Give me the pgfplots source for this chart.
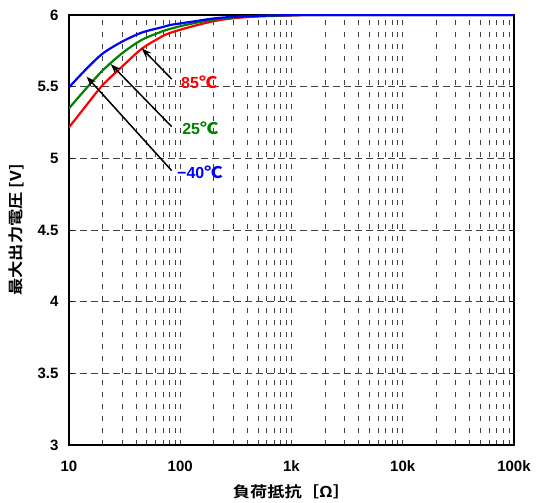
\documentclass[border=0pt]{standalone}
\usepackage{fontspec}
\setmainfont{Liberation Sans}
\newfontfamily\cjk{Noto Sans CJK JP Bold}[FakeStretch=1.15]
\usepackage{pgfplots}
\pgfplotsset{compat=1.18}
\usetikzlibrary{arrows.meta}
\pgfplotstableread{
R V
10 5.495
14 5.616
20 5.730
30 5.814
45 5.877
68 5.914
81 5.930
103 5.943
135 5.956
200 5.976
300 5.987
500 5.994
1000 5.999
2000 6.000
100000 6.000
}\blue
\pgfplotstableread{
R V
10 5.349
14 5.480
20 5.612
30 5.733
45 5.826
68 5.884
81 5.903
103 5.924
135 5.944
200 5.968
300 5.983
500 5.992
1000 5.998
2000 6.000
100000 6.000
}\green
\pgfplotstableread{
R V
10 5.216
14 5.360
20 5.510
30 5.640
45 5.764
68 5.849
81 5.875
103 5.900
135 5.925
200 5.957
300 5.977
500 5.990
1000 5.997
2000 6.000
100000 6.000
}\red
\begin{document}
\begin{tikzpicture}
\begin{axis}[
  scale only axis, width=445pt, height=430pt,
  xmode=log, xmin=10, xmax=100000, ymin=3, ymax=6,
  xtick={10,100,1000,10000,100000},
  xticklabels={10,100,1k,10k,100k},
  ytick={3,3.5,4,4.5,5,5.5,6},
  yticklabels={3,3.5,4,4.5,5,5.5,6},
  major tick length=4pt, minor tick length=0pt,
  tick align=inside,
  xtick style={draw=none},
  ytick style={black, line width=0.8pt},
  xmajorgrids=true, xminorgrids=true, ymajorgrids=true,
  major x grid style={black!75, line width=0.8pt, dash pattern=on 5pt off 7pt},
  minor x grid style={black!75, line width=0.8pt, dash pattern=on 5pt off 7pt},
  major y grid style={black!75, line width=0.8pt, dash pattern=on 7pt off 4pt},
  axis line style={line width=2pt},
  tick label style={font=\fontsize{15}{17}\selectfont\bfseries},
  xticklabel style={yshift=-12pt},
  yticklabel style={xshift=-7pt},
  xlabel={\cjk 負荷抵抗［Ω］},
  ylabel={\cjk 最大出力電圧 [V]},
  label style={font=\fontsize{15}{17}\selectfont},
  xlabel style={at={(axis description cs:0.5,-0.109)}, anchor=center},
  ylabel style={at={(axis description cs:-0.119,0.5)}, anchor=center},
  clip=true,
]
\addplot[red, line width=2.2pt, smooth] table[x=R,y=V] {\red};
\addplot[green!50!black, line width=2.2pt, smooth] table[x=R,y=V] {\green};
\addplot[blue, line width=2.2pt, smooth] table[x=R,y=V] {\blue};
\draw[-{Stealth[length=10pt,width=7pt]}, line width=1.5pt] (axis cs:83.8,5.553) -- (axis cs:45,5.768);
\draw[-{Stealth[length=10pt,width=7pt]}, line width=1.5pt] (axis cs:83.8,5.221) -- (axis cs:23.7,5.658);
\draw[-{Stealth[length=10pt,width=7pt]}, line width=1.5pt] (axis cs:83.8,4.914) -- (axis cs:14.4,5.57);
\node[anchor=west, text=red, font=\fontsize{16}{18}\selectfont\bfseries, inner sep=0pt] at (axis cs:101.6,5.53) {85{\cjk ℃}};
\node[anchor=west, text=green!50!black, font=\fontsize{16}{18}\selectfont\bfseries, inner sep=0pt] at (axis cs:103.8,5.212) {25{\cjk ℃}};
\node[anchor=west, text=blue, font=\fontsize{16}{18}\selectfont\bfseries, inner sep=0pt] at (axis cs:93.5,4.905) {−40{\cjk ℃}};
\end{axis}
\pgfresetboundingbox
\path (-69pt,-58pt) rectangle (467pt,445pt);
\end{tikzpicture}
\end{document}
